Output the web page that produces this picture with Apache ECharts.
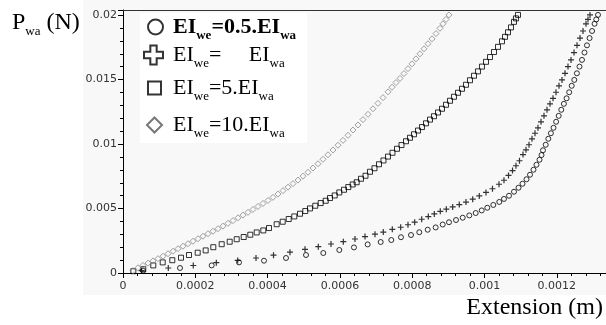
<!DOCTYPE html>
<html>
<head>
<meta charset="utf-8">
<script src="https://cdn.jsdelivr.net/npm/echarts@6/dist/echarts.min.js"></script>
<style>
html, body { margin: 0; padding: 0; background: #fff; }
#chart { width: 606px; height: 325px; }
</style>
</head>
<body>
<div id="chart"></div>
<script>
// extension in mm, load in mN (converted to m and N when the series are built)
var ext_05 = [0.0553, 0.1577, 0.2453, 0.3209, 0.3900, 0.4509, 0.5062, 0.5540, 0.5983, 0.6389,
	0.6768, 0.7128, 0.7421, 0.7689, 0.7966, 0.8196, 0.8428, 0.8649, 0.8843, 0.9017,
	0.9211, 0.9396, 0.9579, 0.9756, 0.9922, 1.0077, 1.0243, 1.0408, 1.0538, 1.0677,
	1.0815, 1.0940, 1.1050, 1.1161, 1.1258, 1.1354, 1.1437, 1.1521, 1.1576, 1.1617,
	1.1692, 1.1764, 1.1836, 1.1908, 1.1980, 1.2051, 1.2123, 1.2195, 1.2270, 1.2342,
	1.2411, 1.2483, 1.2555, 1.2627, 1.2696, 1.2765, 1.2834, 1.2906, 1.2975, 1.3044,
	1.3091, 1.3139];
var load_05 = [0.178, 0.388, 0.589, 0.822, 0.953, 1.163, 1.395, 1.550, 1.783, 1.985,
	2.217, 2.403, 2.558, 2.775, 2.946, 3.163, 3.357, 3.535, 3.760, 3.938,
	4.109, 4.287, 4.465, 4.651, 4.853, 5.062, 5.279, 5.512, 5.744, 5.992,
	6.302, 6.612, 6.923, 7.271, 7.620, 8.008, 8.395, 8.783, 9.147, 9.519,
	9.946, 10.41, 10.84, 11.26, 11.73, 12.19, 12.66, 13.12, 13.55, 14.02,
	14.52, 14.98, 15.49, 16.01, 16.53, 17.10, 17.66, 18.22, 18.77, 19.33,
	19.67, 20.02];

var ext_1 = [0.0517, 0.1253, 0.1944, 0.2581, 0.3173, 0.3679, 0.4163, 0.4619, 0.5034, 0.5402,
	0.5753, 0.6094, 0.6417, 0.6694, 0.6970, 0.7200, 0.7449, 0.7681, 0.7883, 0.8068,
	0.8262, 0.8445, 0.8611, 0.8776, 0.8943, 0.9119, 0.9302, 0.9487, 0.9673, 0.9855,
	1.0041, 1.0220, 1.0400, 1.0538, 1.0663, 1.0774, 1.0870, 1.0967, 1.1064, 1.1147,
	1.1230, 1.1313, 1.1396, 1.1479, 1.1562, 1.1645, 1.1728, 1.1811, 1.1894, 1.1977,
	1.2060, 1.2143, 1.2226, 1.2309, 1.2392, 1.2475, 1.2558, 1.2641, 1.2724, 1.2807,
	1.2862, 1.2917];
var load_1 = [0.178, 0.388, 0.581, 0.798, 0.977, 1.163, 1.380, 1.612, 1.837, 2.039,
	2.248, 2.426, 2.636, 2.829, 3.008, 3.178, 3.388, 3.550, 3.744, 3.946,
	4.171, 4.380, 4.581, 4.783, 4.954, 5.124, 5.310, 5.504, 5.729, 5.977,
	6.248, 6.535, 6.884, 7.194, 7.566, 7.946, 8.318, 8.706, 9.186, 9.558,
	9.946, 10.41, 10.84, 11.26, 11.73, 12.19, 12.66, 13.12, 13.55, 14.02,
	14.52, 14.98, 15.49, 16.01, 16.53, 17.10, 17.66, 18.22, 18.77, 19.33,
	19.67, 20.02];

var ext_5 = [0.0285, 0.0561, 0.0838, 0.1098, 0.1364, 0.1604, 0.1826, 0.2066, 0.2287, 0.2498,
	0.2730, 0.2951, 0.3145, 0.3339, 0.3521, 0.3698, 0.3881, 0.4038, 0.4251, 0.4417,
	0.4583, 0.4738, 0.4896, 0.5042, 0.5172, 0.5319, 0.5468, 0.5607, 0.5726, 0.5856,
	0.5983, 0.6113, 0.6232, 0.6353, 0.6464, 0.6583, 0.6708, 0.6832, 0.6956, 0.7081,
	0.7205, 0.7330, 0.7454, 0.7579, 0.7703, 0.7828, 0.7938, 0.8049, 0.8160, 0.8270,
	0.8381, 0.8492, 0.8602, 0.8713, 0.8824, 0.8934, 0.9045, 0.9155, 0.9266, 0.9377,
	0.9487, 0.9598, 0.9709, 0.9819, 0.9930, 1.0041, 1.0151, 1.0262, 1.0373, 1.0483,
	1.0566, 1.0649, 1.0732, 1.0815, 1.0870, 1.0926];
var load_5 = [0.140, 0.295, 0.589, 0.822, 0.992, 1.186, 1.395, 1.574, 1.752, 2.000,
	2.233, 2.426, 2.620, 2.791, 2.969, 3.147, 3.302, 3.488, 3.783, 3.977,
	4.186, 4.388, 4.597, 4.806, 5.008, 5.217, 5.426, 5.605, 5.814, 6.016,
	6.248, 6.457, 6.667, 6.868, 7.039, 7.310, 7.543, 7.853, 8.124, 8.434,
	8.729, 9.031, 9.326, 9.636, 9.923, 10.22, 10.49, 10.76, 11.05, 11.32,
	11.61, 11.90, 12.16, 12.45, 12.74, 13.05, 13.36, 13.67, 13.98, 14.29,
	14.60, 14.95, 15.30, 15.64, 16.01, 16.38, 16.75, 17.14, 17.54, 17.97,
	18.32, 18.67, 19.05, 19.48, 19.75, 20.02];

var ext_10 = [0.0277, 0.0415, 0.0553, 0.0692, 0.0830, 0.0968, 0.1106, 0.1245, 0.1383, 0.1521,
	0.1660, 0.1798, 0.1936, 0.2075, 0.2213, 0.2351, 0.2489, 0.2628, 0.2766, 0.2904,
	0.3043, 0.3181, 0.3319, 0.3458, 0.3596, 0.3734, 0.3872, 0.4011, 0.4149, 0.4287,
	0.4426, 0.4564, 0.4702, 0.4841, 0.4979, 0.5117, 0.5255, 0.5394, 0.5532, 0.5670,
	0.5809, 0.5947, 0.6085, 0.6224, 0.6362, 0.6500, 0.6638, 0.6777, 0.6915, 0.7053,
	0.7192, 0.7330, 0.7441, 0.7551, 0.7662, 0.7772, 0.7883, 0.7994, 0.8104, 0.8215,
	0.8326, 0.8436, 0.8547, 0.8658, 0.8768, 0.8851, 0.8934, 0.9017];
var load_10 = [0.178, 0.403, 0.589, 0.767, 0.938, 1.116, 1.302, 1.496, 1.690, 1.884,
	2.078, 2.271, 2.465, 2.659, 2.853, 3.047, 3.240, 3.434, 3.636, 3.853,
	4.062, 4.279, 4.488, 4.706, 4.930, 5.163, 5.395, 5.628, 5.868, 6.124,
	6.388, 6.659, 6.930, 7.209, 7.512, 7.814, 8.140, 8.473, 8.822, 9.171,
	9.543, 9.915, 10.29, 10.68, 11.09, 11.48, 11.90, 12.31, 12.74, 13.16,
	13.60, 14.05, 14.41, 14.77, 15.10, 15.47, 15.85, 16.22, 16.61, 17.00,
	17.39, 17.78, 18.16, 18.57, 18.98, 19.33, 19.67, 20.02];

var xTickStep = 0.0002;
var yTickStep = 0.005;

var serif = 'Liberation Serif';
var legendText = {
	'EI05': '{tb|EI}{sb|we}{tb|=0.5.EI}{sb|wa}',
	'EI1': '{t|EI}{s|we}{t|=     EI}{s|wa}',
	'EI5': '{t|EI}{s|we}{t|=5.EI}{s|wa}',
	'EI10': '{t|EI}{s|we}{t|=10.EI}{s|wa}'
};
var richLegend = {
	t: { fontFamily: serif, fontSize: 22, lineHeight: 30, color: '#000', fontWeight: 'normal' },
	tb: { fontFamily: serif, fontSize: 22, lineHeight: 30, color: '#000', fontWeight: 'bold' },
	s: { fontFamily: serif, fontSize: 13, lineHeight: 14, verticalAlign: 'bottom', color: '#000', fontWeight: 'normal' },
	sb: { fontFamily: serif, fontSize: 13, lineHeight: 14, verticalAlign: 'bottom', color: '#000', fontWeight: 'bold' }
};

var plusIcon = 'path://M3,0H6V3H9V6H6V9H3V6H0V3H3Z';
var plusMark = 'path://M2,0H3V2H5V3H3V5H2V3H0V2H2Z';

function pts(xs, ys) {
	return xs.map(function (x, i) { return [x / 1000, ys[i] / 1000]; });
}

function tickFmt(step) {
	return function (v) {
		var k = v / step;
		if (Math.abs(k - Math.round(k)) > 1e-6) return '';
		return String(parseFloat(v.toFixed(6)));
	};
}

function leg(name, icon, left, top, size, pad, border) {
	return {
		data: [{ name: name, icon: icon }],
		orient: 'vertical',
		left: left,
		top: top,
		padding: 0,
		itemWidth: size,
		itemHeight: size,
		selectedMode: false,
		itemStyle: { color: '#fff', borderColor: border, borderWidth: 2 },
		formatter: function () { return legendText[name]; },
		textStyle: { padding: [0, 0, 0, pad], rich: richLegend }
	};
}

var myChart = echarts.init(document.getElementById('chart'));

var option = {
	animation: false,
	backgroundColor: '#fff',
	graphic: [
		{ type: 'rect', z: -10, shape: { x: 83, y: 0, width: 523, height: 295 }, style: { fill: '#f8f8f8' } },
		{ type: 'rect', z: -9, shape: { x: 140, y: 13, width: 167, height: 130 }, style: { fill: '#fff' } }
	],
	title: [
		{
			text: '{p|P}{s|wa}{p| (N)}',
			left: 12, top: 8, padding: 0,
			textStyle: {
				fontWeight: 'normal',
				rich: {
					p: { fontFamily: serif, fontSize: 24, lineHeight: 30, color: '#000', fontWeight: 'normal' },
					s: { fontFamily: serif, fontSize: 13, lineHeight: 14, verticalAlign: 'bottom', color: '#000', fontWeight: 'normal' }
				}
			}
		},
		{
			text: 'Extension (m)',
			right: 3, top: 296, padding: 0,
			textStyle: { fontFamily: serif, fontSize: 24, fontWeight: 'normal', color: '#000' }
		}
	],
	legend: [
		leg('EI05', 'circle', 147, 16, 15, 5, '#000'),
		leg('EI1', plusIcon, 143, 44, 19, 5, '#000'),
		leg('EI5', 'rect', 147, 77, 13, 7, '#000'),
		leg('EI10', 'diamond', 146, 114, 15, 6, '#555')
	],
	grid: { left: 123, right: 0, top: 10, bottom: 52, outerBoundsMode: 'none' },
	xAxis: [
		{
			type: 'value', min: 0, max: 0.001336, interval: xTickStep, offset: 2,
			axisLine: { show: true, lineStyle: { color: '#000', width: 1 } },
			axisTick: { show: true, length: 5, lineStyle: { color: '#000' } },
			minorTick: { show: true, splitNumber: 5, length: 3, lineStyle: { color: '#000' } },
			splitLine: { show: false },
			axisLabel: { fontFamily: 'DejaVu Sans', fontSize: 11, color: '#333', margin: 6, formatter: tickFmt(xTickStep) }
		},
		{
			type: 'value', position: 'top', min: 0, max: 0.001336,
			axisLine: { show: true, lineStyle: { color: '#333' } },
			axisTick: { show: false }, axisLabel: { show: false }, splitLine: { show: false }
		}
	],
	yAxis: {
		type: 'value', min: 0, max: 0.0204, interval: yTickStep,
		axisLine: { show: true, lineStyle: { color: '#000', width: 1 } },
		axisTick: { show: true, length: 5, lineStyle: { color: '#000' } },
		minorTick: { show: true, splitNumber: 5, length: 3, lineStyle: { color: '#000' } },
		splitLine: { show: false },
		axisLabel: { fontFamily: 'DejaVu Sans', fontSize: 11, color: '#333', margin: 6, formatter: tickFmt(yTickStep) }
	},
	series: [
		{
			name: 'EI05', type: 'scatter', data: pts(ext_05, load_05),
			symbol: 'circle', symbolSize: 5,
			itemStyle: { color: 'rgba(0,0,0,0)', borderColor: '#000', borderWidth: 1 }
		},
		{
			name: 'EI1', type: 'scatter', data: pts(ext_1, load_1),
			symbol: plusMark, symbolSize: 6,
			itemStyle: { color: '#000' }
		},
		{
			name: 'EI5', type: 'scatter', data: pts(ext_5, load_5),
			symbol: 'rect', symbolSize: 5,
			itemStyle: { color: 'rgba(0,0,0,0)', borderColor: '#000', borderWidth: 1 }
		},
		{
			name: 'EI10', type: 'scatter', data: pts(ext_10, load_10),
			symbol: 'diamond', symbolSize: 6,
			itemStyle: { color: 'rgba(0,0,0,0)', borderColor: '#888', borderWidth: 1 }
		}
	]
};

myChart.setOption(option);
</script>
</body>
</html>
